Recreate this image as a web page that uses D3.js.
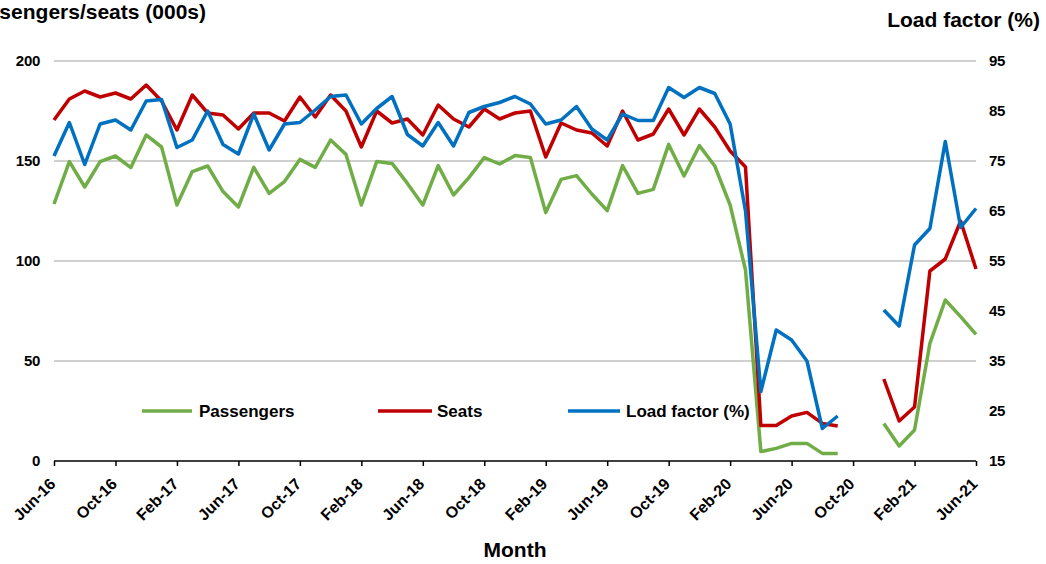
<!DOCTYPE html>
<html>
<head>
<meta charset="utf-8">
<script src="https://cdn.jsdelivr.net/npm/d3@7/dist/d3.min.js"></script>
<style>
  html, body { margin: 0; padding: 0; background: #fff; }
  svg { display: block; font-family: "Liberation Sans", Arial, sans-serif; }
</style>
</head>
<body>
<svg id="chart" width="1046" height="564"></svg>
<script>
// ---- Data ----
const months = [
  "Jun-16","Jul-16","Aug-16","Sep-16","Oct-16","Nov-16","Dec-16","Jan-17","Feb-17","Mar-17","Apr-17","May-17",
  "Jun-17","Jul-17","Aug-17","Sep-17","Oct-17","Nov-17","Dec-17","Jan-18","Feb-18","Mar-18","Apr-18","May-18",
  "Jun-18","Jul-18","Aug-18","Sep-18","Oct-18","Nov-18","Dec-18","Jan-19","Feb-19","Mar-19","Apr-19","May-19",
  "Jun-19","Jul-19","Aug-19","Sep-19","Oct-19","Nov-19","Dec-19","Jan-20","Feb-20","Mar-20","Apr-20","May-20",
  "Jun-20","Jul-20","Aug-20","Sep-20","Oct-20","Nov-20","Dec-20","Jan-21","Feb-21","Mar-21","Apr-21","May-21",
  "Jun-21"
];
const passengers = [
  128.5,149.7,137,149.7,152.5,146.7,163,157,128,144.7,147.5,134.7,
  127,146.8,133.8,139.7,150.8,146.8,160.5,153.3,128,149.7,148.8,138.8,
  128,147.7,133,141.7,151.7,148.5,152.7,151.8,124.2,140.8,142.7,133.5,
  125.2,147.7,133.8,135.8,158.3,142.5,157.7,147.5,128,95.5,4.7,6.3,
  8.8,8.8,3.8,3.8,null,null,18.8,7.5,15.5,58.8,80.5,72.2,
  63.3
];
const seats = [
  170.5,181,185,182,184,181,188,180,165.5,183,174,173,
  166,174,174,170,182,172,183,175,157,175,169,171,
  163,178,171,167,176,171,174,175,152,169,165.5,164,
  157.5,175,160.5,163.5,176,163,176,167,155,147,17.7,17.7,
  22.5,24.3,18.8,17.5,null,null,41,20,27,95,101,120,
  96
];
const loadFactor = [
  76,82.7,74.3,82.4,83.2,81.2,87,87.3,77.7,79.2,85,78.3,
  76.4,84.4,77.2,82.4,82.7,85.2,87.9,88.2,82.4,85.5,87.9,80.3,
  78,82.7,78,84.7,85.9,86.7,87.9,86.4,82.4,83.2,85.9,81.4,
  79.2,84.4,83.1,83.1,89.7,87.7,89.7,88.5,82.4,65,28.9,41.2,
  39.2,35,21.5,24,null,null,45.2,42,58.2,61.5,78.9,61.7,
  65.5
];
const leftTicks = [0, 50, 100, 150, 200];
const rightTicks = [15, 25, 35, 45, 55, 65, 75, 85, 95];
const seriesNames = ["Passengers", "Seats", "Load factor (%)"];
const xTickLabels = months.filter((m, i) => i % 4 === 0);

(function () {
// ---- Layout ----
const svg = d3.select("#chart");
const pl = 54, pr = 976, pt = 61, pb = 461;
const colors = { pax: "#70AD47", seats: "#C00000", lf: "#0070C0" };

const x = d3.scalePoint().domain(months).range([pl, pr]);
const yL = d3.scaleLinear().domain([0, 200]).range([pb, pt]);
const yR = d3.scaleLinear().domain([15, 95]).range([pb, pt]);

// gridlines
svg.append("g").selectAll("line")
  .data(leftTicks.filter(t => t > 0))
  .join("line")
  .attr("x1", pl).attr("x2", pr)
  .attr("y1", d => yL(d)).attr("y2", d => yL(d))
  .attr("stroke", "#C0C0C0").attr("stroke-width", 1.5);

// left axis labels
const gL = svg.append("g").attr("transform", `translate(${pl},0)`)
  .call(d3.axisLeft(yL).tickValues(leftTicks).tickSize(0).tickPadding(14));
gL.select(".domain").remove();
gL.selectAll("text").attr("font-size", 15).attr("font-weight", "bold")
  .attr("fill", "#000").attr("font-family", "Liberation Sans, Arial, sans-serif")
  .attr("letter-spacing", "-0.3");

// right axis labels
const gR = svg.append("g").attr("transform", `translate(${pr},0)`)
  .call(d3.axisRight(yR).tickValues(rightTicks).tickSize(0).tickPadding(13));
gR.select(".domain").remove();
gR.selectAll("text").attr("font-size", 15).attr("font-weight", "bold")
  .attr("fill", "#000").attr("font-family", "Liberation Sans, Arial, sans-serif")
  .attr("letter-spacing", "-0.3");

// bottom axis
const gB = svg.append("g").attr("transform", `translate(0,${pb})`)
  .call(d3.axisBottom(x).tickValues(xTickLabels).tickSize(5).tickSizeOuter(0).tickPadding(6));
gB.select(".domain").attr("stroke", "#000").attr("stroke-width", 1.5)
  .attr("d", `M${pl},0H${pr}`);
gB.selectAll(".tick line").attr("stroke", "#000").attr("stroke-width", 1.5);
gB.selectAll("text")
  .attr("font-size", 16).attr("font-weight", "bold")
  .attr("fill", "#000").attr("font-family", "Liberation Sans, Arial, sans-serif")
  .attr("text-anchor", "end")
  .attr("dy", null).attr("y", null)
  .attr("transform", "translate(2,24) rotate(-45)");

// lines
const mkLine = (yScale) => d3.line()
  .defined(d => d.v !== null)
  .x(d => x(d.m)).y(d => yScale(d.v));
const toPts = arr => months.map((m, i) => ({ m, v: arr[i] }));

svg.append("path").datum(toPts(passengers))
  .attr("d", mkLine(yL)).attr("fill", "none")
  .attr("stroke", colors.pax).attr("stroke-width", 3.5).attr("stroke-linejoin", "round");
svg.append("path").datum(toPts(seats))
  .attr("d", mkLine(yL)).attr("fill", "none")
  .attr("stroke", colors.seats).attr("stroke-width", 3.5).attr("stroke-linejoin", "round");
svg.append("path").datum(toPts(loadFactor))
  .attr("d", mkLine(yR)).attr("fill", "none")
  .attr("stroke", colors.lf).attr("stroke-width", 3.5).attr("stroke-linejoin", "round");

// legend
const legendItems = [
  { name: seriesNames[0], color: colors.pax, x1: 142, x2: 192, tx: 199 },
  { name: seriesNames[1], color: colors.seats, x1: 378, x2: 432, tx: 437 },
  { name: seriesNames[2], color: colors.lf, x1: 568, x2: 620, tx: 626 }
];
const lg = svg.append("g");
legendItems.forEach(it => {
  lg.append("line").attr("x1", it.x1).attr("x2", it.x2).attr("y1", 411).attr("y2", 411)
    .attr("stroke", it.color).attr("stroke-width", 3.5);
  lg.append("text").attr("x", it.tx).attr("y", 417).text(it.name)
    .attr("font-size", 17).attr("font-weight", "bold").attr("fill", "#000");
});

// axis titles
svg.append("text").attr("x", 206).attr("y", 19).attr("text-anchor", "end")
  .attr("font-size", 21).attr("font-weight", "bold")
  .text("Passengers/seats (000s)");
svg.append("text").attr("x", 1040).attr("y", 27).attr("text-anchor", "end")
  .attr("font-size", 21).attr("font-weight", "bold")
  .text("Load factor (%)");
svg.append("text").attr("x", 515).attr("y", 557).attr("text-anchor", "middle")
  .attr("font-size", 21).attr("font-weight", "bold")
  .text("Month");
})();
</script>
</body>
</html>
